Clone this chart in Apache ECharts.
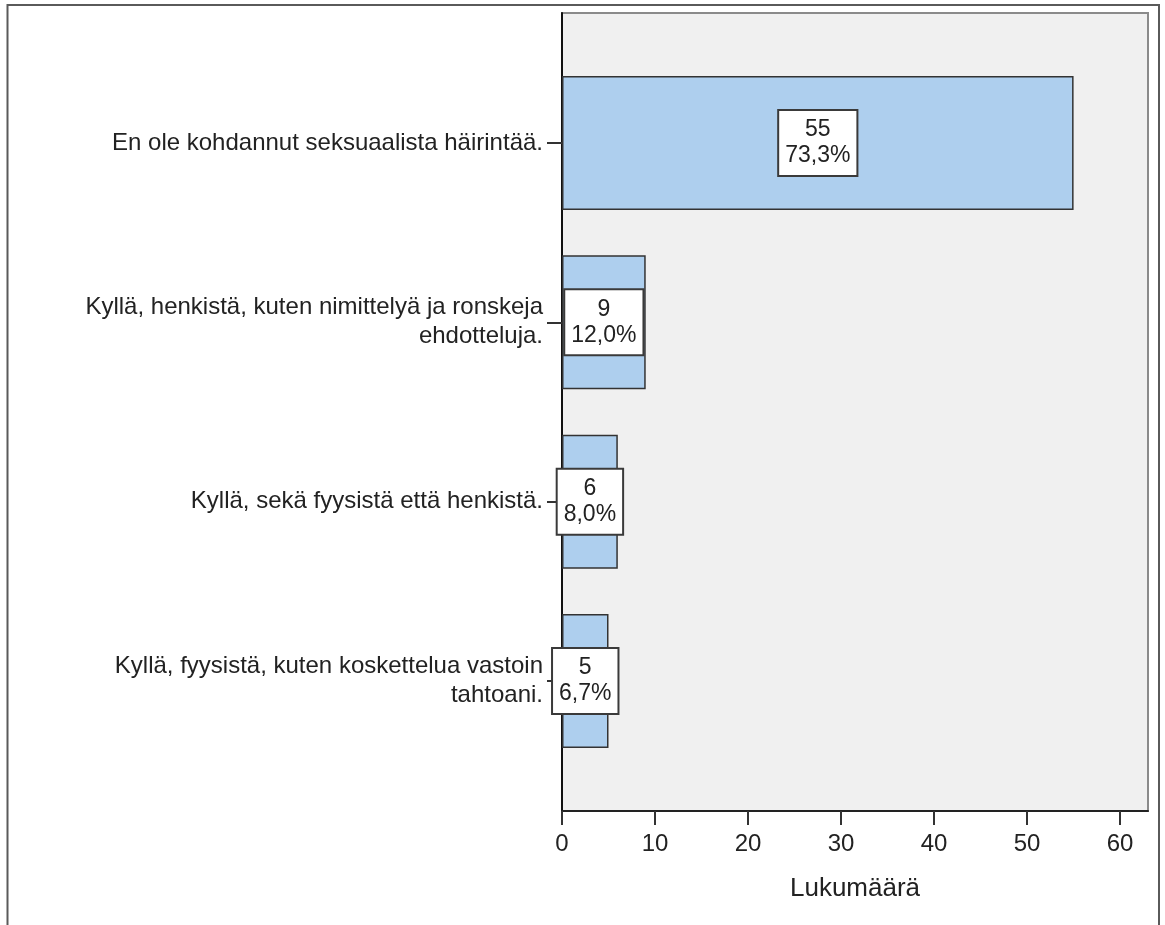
<!DOCTYPE html>
<html>
<head>
<meta charset="utf-8">
<script src="https://cdn.jsdelivr.net/npm/echarts@6/dist/echarts.min.js"></script>
<style>
  html, body { margin: 0; padding: 0; background: #ffffff; }
  #chart { width: 1165px; height: 925px; }
</style>
</head>
<body>
<div id="chart"></div>
<script>
const categories = [
  'En ole kohdannut seksuaalista häirintää.',
  'Kyllä, henkistä, kuten nimittelyä ja ronskeja\nehdotteluja.',
  'Kyllä, sekä fyysistä että henkistä.',
  'Kyllä, fyysistä, kuten koskettelua vastoin\ntahtoani.'
];
const counts = [55, 9, 6, 5];
const percents = ['73,3%', '12,0%', '8,0%', '6,7%'];
const xTicks = [0, 10, 20, 30, 40, 50, 60];
const xMax = 63;
const axisTitle = 'Lukumäärä';

const FONT = '"Liberation Sans", Arial, sans-serif';
const chart = echarts.init(document.getElementById('chart'), null, { renderer: 'canvas' });

const option = {
  animation: false,
  backgroundColor: '#ffffff',
  graphic: [{
    type: 'rect',
    shape: { x: 7.5, y: 5, width: 1151.5, height: 1000 },
    style: { fill: 'none', stroke: '#5a5a5a', lineWidth: 2 },
    silent: true
  }],
  grid: [
    { left: 562, top: 13, width: 586, height: 798, show: true,
      backgroundColor: '#f0f0f0', borderColor: '#8a8a8a', borderWidth: 2 },
    { left: 562, top: 53.2, width: 586, height: 717.6, show: false }
  ],
  xAxis: [
    { gridIndex: 0, type: 'value', min: 0, max: xMax,
      name: axisTitle, nameLocation: 'middle', nameGap: 65,
      nameTextStyle: { fontFamily: FONT, fontSize: 26, color: '#222' },
      axisLine: { show: true, onZero: false, lineStyle: { color: '#222', width: 2 } },
      axisTick: { show: true, length: 14, lineStyle: { color: '#333', width: 2 }, customValues: xTicks },
      axisLabel: { show: true, margin: 21, fontFamily: FONT, fontSize: 24, color: '#222',
                   customValues: xTicks },
      splitLine: { show: false } },
    { gridIndex: 1, type: 'value', min: 0, max: xMax, show: false }
  ],
  yAxis: [
    { gridIndex: 0, type: 'value', min: 0, max: 1,
      axisLine: { show: true, lineStyle: { color: '#111', width: 2 } },
      axisTick: { show: false }, axisLabel: { show: false }, splitLine: { show: false } },
    { gridIndex: 1, type: 'category', data: categories, inverse: true,
      axisLine: { show: false },
      axisTick: { show: true, alignWithLabel: true, length: 15, lineStyle: { color: '#333', width: 2 } },
      axisLabel: { margin: 19, fontFamily: FONT, fontSize: 24, color: '#222', lineHeight: 29,
                   align: 'right', padding: [8, 0, 0, 0] },
      splitLine: { show: false } }
  ],
  series: [{
    type: 'bar',
    xAxisIndex: 1,
    yAxisIndex: 1,
    data: counts,
    barWidth: '74.7%',
    itemStyle: { color: '#aecfee', borderColor: '#333', borderWidth: 1.5 },
    label: {
      show: true,
      position: 'inside',
      formatter: p => counts[p.dataIndex] + '\n' + percents[p.dataIndex],
      fontFamily: FONT,
      fontSize: 23,
      lineHeight: 26,
      color: '#222',
      backgroundColor: '#ffffff',
      borderColor: '#3a3a3a',
      borderWidth: 2,
      padding: [6, 6, 6, 6],
      align: 'center'
    }
  }]
};
chart.setOption(option);
</script>
</body>
</html>
